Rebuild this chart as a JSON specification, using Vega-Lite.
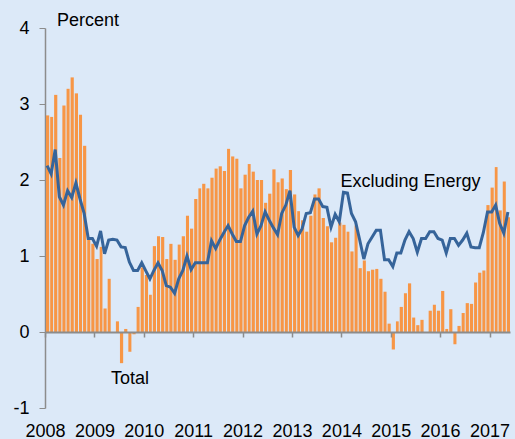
{
  "$schema": "https://vega.github.io/schema/vega-lite/v6.json",
  "width": 465,
  "height": 380,
  "autosize": {"type": "none"},
  "padding": {"left": 45, "top": 28, "right": 5, "bottom": 31},
  "background": "#dce9f8",
  "config": {
    "view": {"stroke": null},
    "font": "Liberation Sans",
    "text": {"font": "Liberation Sans", "fontSize": 18, "color": "#000000"},
    "axis": {"labelFont": "Liberation Sans", "labelFontSize": 18, "labelColor": "#000000", "domainColor": "#8c8c8c", "tickColor": "#8c8c8c", "grid": false, "title": null}
  },
  "data": {
    "format": {"parse": {"date": "date:'%Y-%m'"}},
    "values": [
      {"date":"2008-01","total":2.85,"core":2.19},
      {"date":"2008-02","total":2.83,"core":2.08},
      {"date":"2008-03","total":3.12,"core":2.40},
      {"date":"2008-04","total":2.29,"core":1.78},
      {"date":"2008-05","total":2.98,"core":1.67},
      {"date":"2008-06","total":3.20,"core":1.86},
      {"date":"2008-07","total":3.35,"core":1.77},
      {"date":"2008-08","total":3.14,"core":1.96},
      {"date":"2008-09","total":2.86,"core":1.75},
      {"date":"2008-10","total":2.45,"core":1.56},
      {"date":"2008-11","total":1.25,"core":1.23},
      {"date":"2008-12","total":1.16,"core":1.23},
      {"date":"2009-01","total":0.96,"core":1.13},
      {"date":"2009-02","total":1.12,"core":1.33},
      {"date":"2009-03","total":0.31,"core":1.03},
      {"date":"2009-04","total":0.70,"core":1.21},
      {"date":"2009-05","total":0.00,"core":1.22},
      {"date":"2009-06","total":0.14,"core":1.21},
      {"date":"2009-07","total":-0.41,"core":1.12},
      {"date":"2009-08","total":0.04,"core":1.11},
      {"date":"2009-09","total":-0.26,"core":0.92},
      {"date":"2009-10","total":-0.03,"core":0.81},
      {"date":"2009-11","total":0.33,"core":0.81},
      {"date":"2009-12","total":0.85,"core":0.91},
      {"date":"2010-01","total":0.75,"core":0.80},
      {"date":"2010-02","total":0.49,"core":0.70},
      {"date":"2010-03","total":1.13,"core":0.81},
      {"date":"2010-04","total":1.26,"core":0.91},
      {"date":"2010-05","total":1.25,"core":0.81},
      {"date":"2010-06","total":0.96,"core":0.61},
      {"date":"2010-07","total":1.16,"core":0.59},
      {"date":"2010-08","total":0.95,"core":0.51},
      {"date":"2010-09","total":1.15,"core":0.70},
      {"date":"2010-10","total":1.26,"core":0.81},
      {"date":"2010-11","total":1.53,"core":1.00},
      {"date":"2010-12","total":1.36,"core":0.82},
      {"date":"2011-01","total":1.75,"core":0.91},
      {"date":"2011-02","total":1.89,"core":0.91},
      {"date":"2011-03","total":1.95,"core":0.91},
      {"date":"2011-04","total":1.89,"core":0.91},
      {"date":"2011-05","total":2.03,"core":1.20},
      {"date":"2011-06","total":2.15,"core":1.10},
      {"date":"2011-07","total":2.18,"core":1.21},
      {"date":"2011-08","total":2.12,"core":1.31},
      {"date":"2011-09","total":2.41,"core":1.40},
      {"date":"2011-10","total":2.31,"core":1.29},
      {"date":"2011-11","total":2.28,"core":1.19},
      {"date":"2011-12","total":1.89,"core":1.19},
      {"date":"2012-01","total":2.07,"core":1.40},
      {"date":"2012-02","total":2.21,"core":1.51},
      {"date":"2012-03","total":2.11,"core":1.59},
      {"date":"2012-04","total":2.00,"core":1.29},
      {"date":"2012-05","total":2.00,"core":1.40},
      {"date":"2012-06","total":1.70,"core":1.58},
      {"date":"2012-07","total":1.82,"core":1.47},
      {"date":"2012-08","total":2.14,"core":1.37},
      {"date":"2012-09","total":1.97,"core":1.28},
      {"date":"2012-10","total":2.02,"core":1.56},
      {"date":"2012-11","total":1.88,"core":1.67},
      {"date":"2012-12","total":2.13,"core":1.86},
      {"date":"2013-01","total":1.81,"core":1.38},
      {"date":"2013-02","total":1.59,"core":1.27},
      {"date":"2013-03","total":1.47,"core":1.36},
      {"date":"2013-04","total":1.32,"core":1.56},
      {"date":"2013-05","total":1.53,"core":1.57},
      {"date":"2013-06","total":1.81,"core":1.75},
      {"date":"2013-07","total":1.89,"core":1.75},
      {"date":"2013-08","total":1.50,"core":1.65},
      {"date":"2013-09","total":1.39,"core":1.64},
      {"date":"2013-10","total":1.18,"core":1.38},
      {"date":"2013-11","total":1.24,"core":1.55},
      {"date":"2013-12","total":1.44,"core":1.45},
      {"date":"2014-01","total":1.41,"core":1.84},
      {"date":"2014-02","total":1.32,"core":1.83},
      {"date":"2014-03","total":1.06,"core":1.56},
      {"date":"2014-04","total":1.40,"core":1.45},
      {"date":"2014-05","total":0.84,"core":1.21},
      {"date":"2014-06","total":0.94,"core":0.96},
      {"date":"2014-07","total":0.80,"core":1.16},
      {"date":"2014-08","total":0.82,"core":1.25},
      {"date":"2014-09","total":0.83,"core":1.34},
      {"date":"2014-10","total":0.70,"core":1.34},
      {"date":"2014-11","total":0.53,"core":0.95},
      {"date":"2014-12","total":0.11,"core":0.95},
      {"date":"2015-01","total":-0.23,"core":0.86},
      {"date":"2015-02","total":0.14,"core":1.04},
      {"date":"2015-03","total":0.33,"core":1.04},
      {"date":"2015-04","total":0.51,"core":1.21},
      {"date":"2015-05","total":0.64,"core":1.32},
      {"date":"2015-06","total":0.19,"core":1.23},
      {"date":"2015-07","total":0.09,"core":1.05},
      {"date":"2015-08","total":0.16,"core":1.23},
      {"date":"2015-09","total":0.00,"core":1.23},
      {"date":"2015-10","total":0.28,"core":1.32},
      {"date":"2015-11","total":0.36,"core":1.32},
      {"date":"2015-12","total":0.28,"core":1.23},
      {"date":"2016-01","total":0.54,"core":1.21},
      {"date":"2016-02","total":0.04,"core":1.04},
      {"date":"2016-03","total":0.30,"core":1.23},
      {"date":"2016-04","total":-0.16,"core":1.23},
      {"date":"2016-05","total":0.08,"core":1.14},
      {"date":"2016-06","total":0.25,"core":1.21},
      {"date":"2016-07","total":0.38,"core":1.30},
      {"date":"2016-08","total":0.37,"core":1.12},
      {"date":"2016-09","total":0.65,"core":1.11},
      {"date":"2016-10","total":0.78,"core":1.11},
      {"date":"2016-11","total":0.81,"core":1.31},
      {"date":"2016-12","total":1.67,"core":1.58},
      {"date":"2017-01","total":1.90,"core":1.58},
      {"date":"2017-02","total":2.17,"core":1.67},
      {"date":"2017-03","total":1.60,"core":1.43},
      {"date":"2017-04","total":1.98,"core":1.30},
      {"date":"2017-05","total":1.51,"core":1.58}
    ]
  },
  "layer": [
    {
      "mark": {"type": "bar", "color": "#f79646"},
      "encoding": {
        "x": {
          "field": "date", "timeUnit": "yearmonth", "type": "temporal",
          "scale": {"domain": [{"year": 2008, "month": 1, "date": 1}, {"year": 2017, "month": 6, "date": 1}]},
          "axis": {"orient": "bottom", "domain": false, "ticks": false, "labelPadding": 14, "format": "%Y", "tickCount": {"interval": "year", "step": 1}, "labelFlush": false, "labelOverlap": false}
        },
        "y": {
          "field": "total", "type": "quantitative",
          "scale": {"domain": [-1, 4], "nice": false},
          "axis": {"values": [-1, 0, 1, 2, 3, 4], "format": "d", "tickSize": 6, "labelPadding": 10, "domain": true, "domainWidth": 1.5, "labelExpr": "replace(datum.label, '\u2212', '-')"}
        }
      }
    },
    {
      "mark": {"type": "line", "color": "#36649a", "strokeWidth": 3},
      "encoding": {
        "x": {
          "field": "date", "timeUnit": "yearmonth", "type": "temporal", "bandPosition": 0.5,
          "axis": {"orient": "bottom", "offset": -76, "labels": false, "ticks": true, "tickSize": 5, "tickWidth": 1.5, "domain": true, "domainWidth": 2, "tickCount": {"interval": "year", "step": 1}, "zindex": 1}
        },
        "y": {"field": "core", "type": "quantitative"}
      }
    },
    {
      "data": {
        "format": {"parse": {"pos": "date:'%Y-%m-%d'"}},
        "values": [
          {"label": "Percent", "pos": "2008-03-30", "value": 4.03},
          {"label": "Excluding Energy", "pos": "2013-12-25", "value": 1.91},
          {"label": "Total", "pos": "2009-05-03", "value": -0.68}
        ]
      },
      "mark": {"type": "text", "align": "left", "baseline": "alphabetic"},
      "encoding": {
        "x": {"field": "pos", "type": "temporal", "axis": null},
        "y": {"field": "value", "type": "quantitative"},
        "text": {"field": "label"}
      }
    }
  ],
  "resolve": {"axis": {"x": "independent"}}
}
